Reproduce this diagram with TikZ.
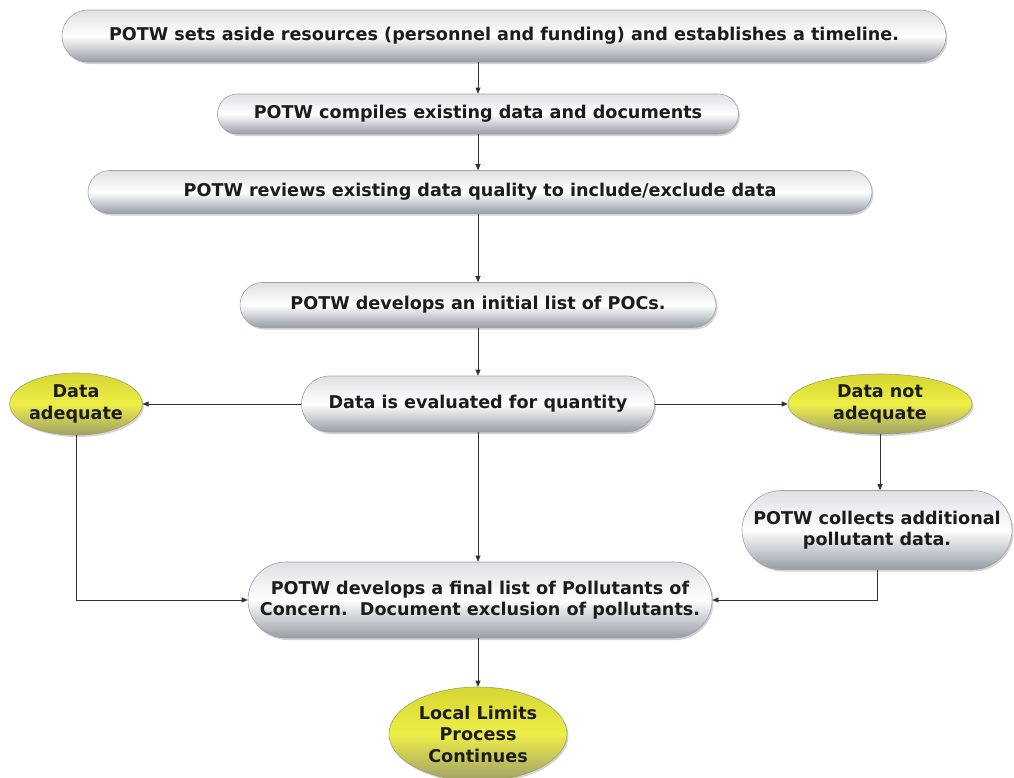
\documentclass[tikz,border=0pt]{standalone}
\usepackage{fontspec}
\setmainfont{DejaVu Sans}
\usetikzlibrary{shapes.misc,shapes.geometric,shadows,arrows.meta}

\definecolor{pilltop}{RGB}{222,224,228}
\definecolor{pillbot}{RGB}{150,156,166}
\definecolor{pilledge}{RGB}{160,162,168}
\definecolor{eggtop}{RGB}{214,214,50}
\definecolor{eggmid}{RGB}{238,238,72}
\definecolor{eggbot}{RGB}{160,160,105}
\definecolor{ink}{RGB}{28,28,28}

\tikzset{
	pill/.style={rounded rectangle, draw=pilledge, line width=0.6pt,
		top color=pilltop, bottom color=pillbot, middle color=white,
		drop shadow={shadow xshift=1.5pt, shadow yshift=-2pt, opacity=0.35},
		inner sep=0pt, align=center, text=ink,
		font=\fontsize{17.6}{21.5}\selectfont\bfseries},
	egg/.style={ellipse, draw=eggbot, line width=0.6pt,
		top color=eggtop, bottom color=eggbot, middle color=eggmid,
		drop shadow={shadow xshift=1.5pt, shadow yshift=-2pt, opacity=0.35},
		inner sep=0pt, align=center, text=ink,
		font=\fontsize{17.6}{21.5}\selectfont\bfseries},
	link/.style={draw=black!80, line width=0.6pt, -{Triangle[length=6pt, width=5pt]}}
}

\begin{document}
\begin{tikzpicture}[x=1pt, y=-1pt]
			%%%%% START %%%%%
			\useasboundingbox (0,0) rectangle (1014,777);
			
			\node[pill, minimum width=884pt, minimum height=52pt] (setaside) at (504,36) {POTW sets aside resources (personnel and funding) and establishes a timeline.};
			\node[pill, minimum width=521pt, minimum height=40pt] (compile) at (478,114) {POTW compiles existing data and documents};
			\node[pill, minimum width=784pt, minimum height=43pt] (review) at (480,192) {POTW reviews existing data quality to include/exclude data};
			\node[pill, minimum width=476pt, minimum height=45pt] (initial) at (478,305) {POTW develops an initial list of POCs.};
			\node[pill, minimum width=353pt, minimum height=56pt] (evaluate) at (478,404) {Data is evaluated for quantity};
			
			\node[egg, minimum width=132pt, minimum height=62pt] (adequate) at (76,404) {Data\\adequate};
			\node[egg, minimum width=184pt, minimum height=60pt] (notadequate) at (880,404) {Data not\\adequate};
			
			\node[pill, minimum width=270pt, minimum height=79pt] (collect) at (877,530) {POTW collects additional\\pollutant data.};
			\node[pill, minimum width=464pt, minimum height=76pt] (final) at (480,600) {POTW develops a final list of Pollutants of\\Concern.\ \ Document exclusion of pollutants.};
			\node[egg, minimum width=178pt, minimum height=94pt] (continues) at (478,734) {Local Limits\\Process\\Continues};
			
			\draw[link] (setaside.south -| compile.north) -- (compile.north);
			\draw[link] (compile.south) -- (compile.south |- review.north);
			\draw[link] (compile.south |- review.south) -- (initial.north);
			\draw[link] (initial.south) -- (evaluate.north);
			\draw[link] (evaluate.west) -- (adequate.east);
			\draw[link] (evaluate.east) -- (notadequate.west);
			\draw[link] (notadequate.south) -- (notadequate.south |- collect.north);
			\draw[link] (evaluate.south) -- (evaluate.south |- final.north);
			\draw[link] (adequate.south) |- (final.west);
			\draw[link] (collect.south) |- (final.east);
			\draw[link] (continues.north |- final.south) -- (continues.north);
			
			%%%%% END %%%%%
\end{tikzpicture}
\end{document}
